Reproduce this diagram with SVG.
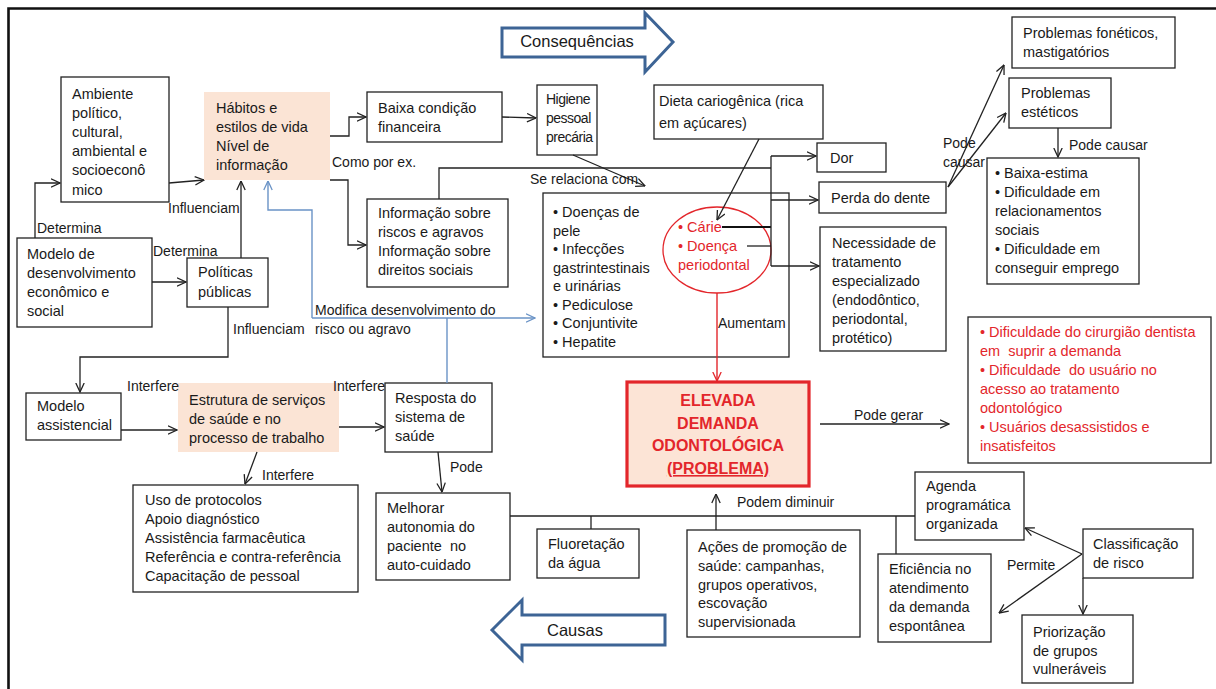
<svg xmlns="http://www.w3.org/2000/svg" width="1216" height="689" viewBox="0 0 1216 689">
<style>
.t{font-family:"Liberation Sans",Arial,sans-serif;font-size:14.5px;fill:#1a1a1a}
.l{font-family:"Liberation Sans",Arial,sans-serif;font-size:14px;fill:#1a1a1a}
.r{fill:#e3262b}
.b{fill:#fff;stroke:#222;stroke-width:1.3}
.pe{fill:#fbe4d5}
.c{fill:none;stroke:#222;stroke-width:1.3}
.cb{fill:none;stroke:#6a93c6;stroke-width:1.4}
.cr{fill:none;stroke:#e3262b;stroke-width:1.4}
.blk{fill:#fff;stroke:#3d6495;stroke-width:3}
.big{font-family:"Liberation Sans",Arial,sans-serif;font-size:16.5px;fill:#1a1a1a}
.el{font-family:"Liberation Sans",Arial,sans-serif;font-size:16px;font-weight:bold;fill:#e3262b}
</style>
<defs>
<marker id="a" viewBox="0 0 10 10" refX="9.5" refY="5" markerWidth="10" markerHeight="10" markerUnits="userSpaceOnUse" orient="auto"><path d="M0.5,0.8 L9.5,5 L0.5,9.2" fill="none" stroke="#222" stroke-width="1.3"/></marker>
<marker id="ab" viewBox="0 0 10 10" refX="9.5" refY="5" markerWidth="10" markerHeight="10" markerUnits="userSpaceOnUse" orient="auto"><path d="M0.5,0.8 L9.5,5 L0.5,9.2" fill="none" stroke="#6a93c6" stroke-width="1.3"/></marker>
<marker id="ar" viewBox="0 0 10 10" refX="9.5" refY="5" markerWidth="10" markerHeight="10" markerUnits="userSpaceOnUse" orient="auto"><path d="M0.5,0.8 L9.5,5 L0.5,9.2" fill="none" stroke="#e3262b" stroke-width="1.3"/></marker>
</defs>
<rect x="0" y="0" width="1216" height="689" fill="#fff"/>
<path d="M8.5,689 L8.5,8.5 L1216,8.5" fill="none" stroke="#111" stroke-width="2.6"/>

<g id="arrow-consequencias">
<polygon class="blk" points="502,28 645,28 645,13 673,42 645,72 645,57 502,57"/>
<text class="big" x="577" y="47" text-anchor="middle">Consequências</text>
</g>
<g id="arrow-causas">
<polygon class="blk" points="492,630 522,600 522,615 665,615 665,645 522,645 522,660"/>
<text class="big" x="575" y="636" text-anchor="middle">Causas</text>
</g>

<g id="n-ambiente"><rect class="b" x="61" y="77" width="108" height="125"/>
<text class="t"><tspan x="72" y="99">Ambiente</tspan><tspan x="72" y="118">político,</tspan><tspan x="72" y="137">cultural,</tspan><tspan x="72" y="156">ambiental e</tspan><tspan x="72" y="175">socioeconô</tspan><tspan x="72" y="195">mico</tspan></text></g>

<g id="n-habitos"><rect class="pe" x="204" y="92" width="126" height="88"/>
<text class="t"><tspan x="216" y="113">Hábitos e</tspan><tspan x="216" y="132">estilos de vida</tspan><tspan x="216" y="151">Nível de</tspan><tspan x="216" y="170">informação</tspan></text></g>

<g id="n-baixa"><rect class="b" x="367" y="92" width="135" height="50"/>
<text class="t"><tspan x="378" y="113">Baixa condição</tspan><tspan x="378" y="132">financeira</tspan></text></g>

<g id="n-higiene"><rect class="b" x="537" y="85" width="60" height="70"/>
<text class="t" style="font-size:14px;letter-spacing:-0.5px"><tspan x="546" y="104">Higiene</tspan><tspan x="546" y="123">pessoal</tspan><tspan x="546" y="142">precária</tspan></text></g>

<g id="n-dieta"><rect class="b" x="654" y="85" width="169" height="54"/>
<text class="t"><tspan x="659" y="106">Dieta cariogênica (rica</tspan><tspan x="659" y="128">em açúcares)</tspan></text></g>

<g id="n-probfon"><rect class="b" x="1012" y="17" width="163" height="51"/>
<text class="t"><tspan x="1023" y="38">Problemas fonéticos,</tspan><tspan x="1023" y="57">mastigatórios</tspan></text></g>

<g id="n-probest"><rect class="b" x="1009" y="78" width="102" height="50"/>
<text class="t"><tspan x="1021" y="98">Problemas</tspan><tspan x="1021" y="117">estéticos</tspan></text></g>

<g id="n-dor"><rect class="b" x="817" y="143" width="69" height="29"/>
<text class="t" x="830" y="163">Dor</text></g>

<g id="n-perda"><rect class="b" x="819" y="182" width="127" height="31"/>
<text class="t" x="831" y="203">Perda do dente</text></g>

<g id="n-baixaestima"><rect class="b" x="987" y="158" width="152" height="126"/>
<text class="t"><tspan x="995" y="178">• Baixa-estima</tspan><tspan x="995" y="197">• Dificuldade em</tspan><tspan x="995" y="216">relacionamentos</tspan><tspan x="995" y="235">sociais</tspan><tspan x="995" y="254">• Dificuldade em</tspan><tspan x="995" y="273">conseguir emprego</tspan></text></g>

<g id="n-necessidade"><rect class="b" x="820" y="227" width="126" height="124"/>
<text class="t"><tspan x="832" y="248">Necessidade de</tspan><tspan x="832" y="267">tratamento</tspan><tspan x="832" y="286">especializado</tspan><tspan x="832" y="305">(endodôntico,</tspan><tspan x="832" y="324">periodontal,</tspan><tspan x="832" y="343">protético)</tspan></text></g>

<g id="n-dificuldades"><rect class="b" x="968" y="317" width="243" height="146"/>
<text class="t r" xml:space="preserve"><tspan x="980" y="337">• Dificuldade do cirurgião dentista</tspan><tspan x="980" y="356">em  suprir a demanda</tspan><tspan x="980" y="375">• Dificuldade  do usuário no</tspan><tspan x="980" y="394">acesso ao tratamento</tspan><tspan x="980" y="413">odontológico</tspan><tspan x="980" y="432">• Usuários desassistidos e</tspan><tspan x="980" y="451">insatisfeitos</tspan></text></g>

<g id="n-elevada"><rect x="627" y="382" width="182" height="104" fill="#fce4d6" stroke="#e3262b" stroke-width="3.2"/>
<text class="el" text-anchor="middle"><tspan x="718" y="406">ELEVADA</tspan><tspan x="718" y="429">DEMANDA</tspan><tspan x="718" y="451">ODONTOLÓGICA</tspan><tspan x="718" y="474" text-decoration="underline">(PROBLEMA)</tspan></text></g>

<g id="n-doencas"><rect class="b" x="543" y="193" width="246" height="164"/>
<text class="t"><tspan x="553" y="217">• Doenças de</tspan><tspan x="553" y="235.5">pele</tspan><tspan x="553" y="254">• Infecções</tspan><tspan x="553" y="272.5">gastrintestinais</tspan><tspan x="553" y="291">e urinárias</tspan><tspan x="553" y="309.5">• Pediculose</tspan><tspan x="553" y="328">• Conjuntivite</tspan><tspan x="553" y="346.5">• Hepatite</tspan></text></g>

<g id="n-carie"><ellipse cx="717" cy="250" rx="54" ry="43" fill="none" stroke="#e3262b" stroke-width="1.3"/>
<text class="t r"><tspan x="678" y="232">• Cárie</tspan><tspan x="678" y="251">• Doença</tspan><tspan x="678" y="270">periodontal</tspan></text></g>

<g id="n-info"><rect class="b" x="367" y="199" width="141" height="88"/>
<text class="t"><tspan x="378" y="218">Informação sobre</tspan><tspan x="378" y="237">riscos e agravos</tspan><tspan x="378" y="256">Informação sobre</tspan><tspan x="378" y="275">direitos sociais</tspan></text></g>

<g id="n-modelodes"><rect class="b" x="17" y="238" width="135" height="89"/>
<text class="t"><tspan x="27" y="259">Modelo de</tspan><tspan x="27" y="278">desenvolvimento</tspan><tspan x="27" y="297">econômico e</tspan><tspan x="27" y="316">social</tspan></text></g>

<g id="n-politicas"><rect class="b" x="187" y="258" width="81" height="49"/>
<text class="t"><tspan x="198" y="277">Políticas</tspan><tspan x="198" y="297">públicas</tspan></text></g>

<g id="n-modeloassist"><rect class="b" x="26" y="393" width="95" height="47"/>
<text class="t"><tspan x="37" y="411">Modelo</tspan><tspan x="37" y="430">assistencial</tspan></text></g>

<g id="n-estrutura"><rect class="pe" x="178" y="383" width="161" height="69"/>
<text class="t"><tspan x="189" y="405">Estrutura de serviços</tspan><tspan x="189" y="424">de saúde e no</tspan><tspan x="189" y="443">processo de trabalho</tspan></text></g>

<g id="n-resposta"><rect class="b" x="385" y="383" width="107" height="69"/>
<text class="t"><tspan x="395" y="403">Resposta do</tspan><tspan x="395" y="422">sistema de</tspan><tspan x="395" y="441">saúde</tspan></text></g>

<g id="n-uso"><rect class="b" x="133" y="485" width="225" height="107"/>
<text class="t"><tspan x="145" y="505">Uso de protocolos</tspan><tspan x="145" y="524">Apoio diagnóstico</tspan><tspan x="145" y="543">Assistência farmacêutica</tspan><tspan x="145" y="562">Referência e contra-referência</tspan><tspan x="145" y="581">Capacitação de pessoal</tspan></text></g>

<g id="n-melhorar"><rect class="b" x="376" y="493" width="134" height="87"/>
<text class="t" xml:space="preserve"><tspan x="387" y="513">Melhorar</tspan><tspan x="387" y="532">autonomia do</tspan><tspan x="387" y="551">paciente  no</tspan><tspan x="387" y="570">auto-cuidado</tspan></text></g>

<g id="n-fluor"><rect class="b" x="537" y="529" width="102" height="49"/>
<text class="t"><tspan x="548" y="549">Fluoretação</tspan><tspan x="548" y="568">da água</tspan></text></g>

<g id="n-acoes"><rect class="b" x="687" y="530" width="173" height="107"/>
<text class="t"><tspan x="698" y="552">Ações de promoção de</tspan><tspan x="698" y="571">saúde: campanhas,</tspan><tspan x="698" y="590">grupos operativos,</tspan><tspan x="698" y="608">escovação</tspan><tspan x="698" y="627">supervisionada</tspan></text></g>

<g id="n-agenda"><rect class="b" x="915" y="472" width="109" height="68"/>
<text class="t"><tspan x="926" y="491">Agenda</tspan><tspan x="926" y="510">programática</tspan><tspan x="926" y="529">organizada</tspan></text></g>

<g id="n-eficiencia"><rect class="b" x="878" y="554" width="113" height="88"/>
<text class="t"><tspan x="889" y="574">Eficiência no</tspan><tspan x="889" y="593">atendimento</tspan><tspan x="889" y="612">da demanda</tspan><tspan x="889" y="631">espontânea</tspan></text></g>

<g id="n-classif"><rect class="b" x="1083" y="529" width="110" height="49"/>
<text class="t"><tspan x="1093" y="549">Classificação</tspan><tspan x="1093" y="568">de risco</tspan></text></g>

<g id="n-prior"><rect class="b" x="1022" y="615" width="111" height="68"/>
<text class="t"><tspan x="1033" y="637">Priorização</tspan><tspan x="1033" y="656">de grupos</tspan><tspan x="1033" y="674">vulneráveis</tspan></text></g>

<g id="connectors">
<polyline class="c" points="35,238 35,183 60,183" marker-end="url(#a)"/>
<line class="c" x1="169" y1="183" x2="204" y2="180" marker-end="url(#a)"/>
<line class="c" x1="152" y1="282" x2="186" y2="282" marker-end="url(#a)"/>
<line class="c" x1="241" y1="258" x2="241" y2="181" marker-end="url(#a)"/>
<polyline class="c" points="228,307 228,357 80,357 80,392" marker-end="url(#a)"/>
<line class="c" x1="121" y1="430" x2="177" y2="430" marker-end="url(#a)"/>
<line class="c" x1="339" y1="427" x2="384" y2="427" marker-end="url(#a)"/>
<line class="c" x1="257" y1="452" x2="245" y2="484" marker-end="url(#a)"/>
<line class="c" x1="438" y1="452" x2="442" y2="492" marker-end="url(#a)"/>
<polyline class="c" points="330,136 349,136 349,117 366,117" marker-end="url(#a)"/>
<polyline class="c" points="330,180 348,180 348,245 366,245" marker-end="url(#a)"/>
<line class="c" x1="502" y1="117" x2="536" y2="118" marker-end="url(#a)"/>
<line class="c" x1="573" y1="155" x2="645" y2="186" marker-end="url(#a)"/>
<line class="c" x1="759" y1="139" x2="717" y2="220" marker-end="url(#a)"/>
<polyline class="c" points="439,199 439,168 771,168"/>
<line x1="722" y1="227" x2="771" y2="227" stroke="#111" stroke-width="2.2"/>
<line class="c" x1="747" y1="246" x2="771" y2="246"/>
<line class="c" x1="771" y1="156" x2="771" y2="266"/>
<line class="c" x1="771" y1="156" x2="816" y2="156" marker-end="url(#a)"/>
<line class="c" x1="771" y1="200" x2="818" y2="200" marker-end="url(#a)"/>
<line class="c" x1="771" y1="266" x2="819" y2="266" marker-end="url(#a)"/>
<line class="cr" x1="717" y1="293" x2="717" y2="381" marker-end="url(#ar)"/>
<line class="c" x1="820" y1="424" x2="949" y2="424" marker-end="url(#a)"/>
<line class="c" x1="716" y1="530" x2="716" y2="494" marker-end="url(#a)"/>
<line class="c" x1="510" y1="516" x2="915" y2="516"/>
<line class="c" x1="591" y1="516" x2="591" y2="529"/>
<line class="c" x1="896" y1="516" x2="896" y2="554"/>
<line class="c" x1="1083" y1="578" x2="1083" y2="614" marker-end="url(#a)"/>
<line class="c" x1="1082" y1="554" x2="1025" y2="528" marker-end="url(#a)"/>
<line class="c" x1="1082" y1="554" x2="999" y2="613" marker-end="url(#a)"/>
<line class="c" x1="948" y1="187" x2="1004" y2="65" marker-end="url(#a)"/>
<line class="c" x1="948" y1="187" x2="1006" y2="113" marker-end="url(#a)"/>
<line class="c" x1="1058" y1="128" x2="1058" y2="157" marker-end="url(#a)"/>
<line class="cb" x1="447" y1="383" x2="447" y2="318"/>
<polyline class="cb" points="312,318 535,318" marker-end="url(#ab)"/>
<polyline class="cb" points="312,318 312,210 268,210 268,181" marker-end="url(#ab)"/>
</g>

<g id="labels">
<text class="l" x="37" y="233">Determina</text>
<text class="l" x="168" y="213">Influenciam</text>
<text class="l" x="153" y="256">Determina</text>
<text class="l" x="332" y="167">Como por ex.</text>
<text class="l" x="530" y="184">Se relaciona com</text>
<text class="l" x="233" y="334">Influenciam</text>
<text class="l" x="315" y="315">Modifica desenvolvimento do</text>
<text class="l" x="315" y="334">risco ou agravo</text>
<text class="l" x="127" y="391">Interfere</text>
<text class="l" x="333" y="391">Interfere</text>
<text class="l" x="262" y="480">Interfere</text>
<text class="l" x="450" y="472">Pode</text>
<text class="l" x="718" y="328">Aumentam</text>
<text class="l" x="854" y="420">Pode gerar</text>
<text class="l" x="737" y="507">Podem diminuir</text>
<text class="l" x="1007" y="570">Permite</text>
<text class="l" x="943" y="148">Pode</text>
<text class="l" x="943" y="167">causar</text>
<text class="l" x="1069" y="150">Pode causar</text>
</g>
</svg>
